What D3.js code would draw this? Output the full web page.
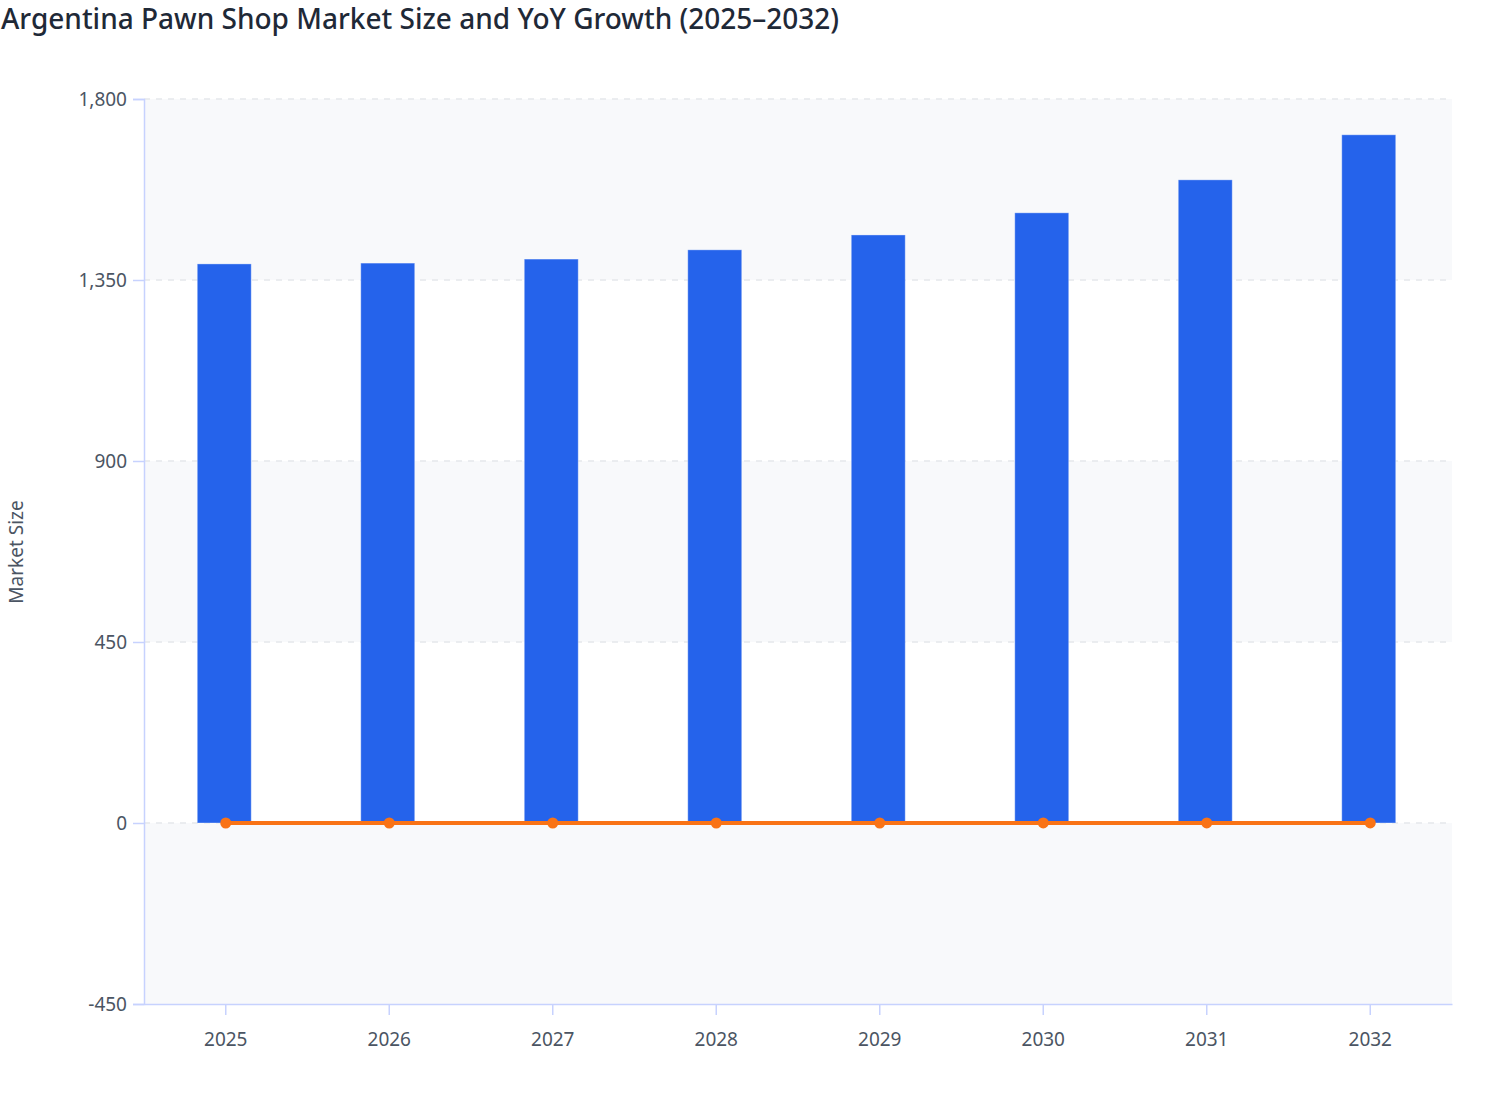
<!DOCTYPE html>
<html>
<head>
<meta charset="utf-8">
<script src="https://cdn.jsdelivr.net/npm/d3@7"></script>
<style>
  html, body { margin: 0; padding: 0; background: #ffffff; }
  svg { display: block; font-family: "Noto Sans", "Open Sans", sans-serif; }
</style>
</head>
<body>
<svg id="chart" width="1508" height="1120"></svg>
<script>
const years = ["2025", "2026", "2027", "2028", "2029", "2030", "2031", "2032"];
const marketSize = [1390, 1392, 1402, 1425, 1462, 1517, 1599, 1711];
const yoyGrowth = [0, 0.0014, 0.0072, 0.016, 0.026, 0.038, 0.054, 0.07];
const yTicks = [-450, 0, 450, 900, 1350, 1800];
const titleText = "Argentina Pawn Shop Market Size and YoY Growth (2025–2032)";
const yLabel = "Market Size";

const W = 1508, H = 1120;
const margin = { top: 99, right: 56, bottom: 116, left: 144 };
const iw = W - margin.left - margin.right;
const ih = H - margin.top - margin.bottom;

const svg = d3.select("#chart");

svg.append("text")
  .attr("x", 1).attr("y", 29)
  .attr("fill", "#1f2937")
  .attr("font-size", 28)
  .attr("font-weight", 500)
  .text(titleText);

const g = svg.append("g").attr("transform", `translate(${margin.left},${margin.top})`);

const x = d3.scaleBand().domain(years).range([0, iw]).padding(0);
const y = d3.scaleLinear().domain([-450, 1800]).range([ih, 0]);

// alternating background bands
const bands = d3.pairs(yTicks).filter((d, i) => i % 2 === 0);
g.selectAll("rect.band").data(bands).join("rect")
  .attr("class", "band")
  .attr("x", 0).attr("width", iw)
  .attr("y", d => y(d[1])).attr("height", d => y(d[0]) - y(d[1]))
  .attr("fill", "#f8f9fb");

// gridlines
g.selectAll("line.grid").data(yTicks.filter(t => t !== -450)).join("line")
  .attr("class", "grid")
  .attr("x1", 0).attr("x2", iw)
  .attr("y1", d => y(d)).attr("y2", d => y(d))
  .attr("stroke", "#e5e7eb").attr("stroke-width", 1.5)
  .attr("stroke-dasharray", "6,6");

// bars
const barW = x.bandwidth() * 0.33;
g.selectAll("rect.bar").data(years).join("rect")
  .attr("class", "bar")
  .attr("x", (d) => x(d) + x.bandwidth() / 2 - barW / 2 - 1.5)
  .attr("width", barW)
  .attr("y", (d, i) => y(marketSize[i]))
  .attr("height", (d, i) => y(0) - y(marketSize[i]))
  .attr("fill", "#2563eb")
  .attr("stroke", "rgba(255,255,255,0.35)")
  .attr("stroke-width", 1);

// line
const line = d3.line()
  .x((d, i) => x(years[i]) + x.bandwidth() / 2)
  .y(d => y(d));
g.append("path").datum(yoyGrowth)
  .attr("d", line)
  .attr("fill", "none")
  .attr("stroke", "#f97316")
  .attr("stroke-width", 4);
g.selectAll("circle.pt").data(yoyGrowth).join("circle")
  .attr("class", "pt")
  .attr("cx", (d, i) => x(years[i]) + x.bandwidth() / 2)
  .attr("cy", d => y(d))
  .attr("r", 5.5)
  .attr("fill", "#f97316");

const fmt = v => d3.format(",")(v).replace("−", "-");

// y axis
const yAxis = g.append("g")
  .call(d3.axisLeft(y).tickValues(yTicks).tickFormat(fmt).tickSize(11).tickPadding(6));
yAxis.attr("font-size", 19).attr("font-family", "Noto Sans, Open Sans, sans-serif");
yAxis.select(".domain").attr("stroke", "#c7d2fe").attr("stroke-width", 1.5);
yAxis.selectAll(".tick line").attr("stroke", "#c7d2fe").attr("stroke-width", 1.5);
yAxis.selectAll(".tick text").attr("fill", "#4b5563");

// x axis
const xAxis = g.append("g").attr("transform", `translate(0,${ih})`)
  .call(d3.axisBottom(x).tickSize(11).tickPadding(18).tickSizeOuter(0));
xAxis.attr("font-size", 19).attr("font-family", "Noto Sans, Open Sans, sans-serif");
xAxis.select(".domain").attr("stroke", "#c7d2fe").attr("stroke-width", 1.5);
xAxis.selectAll(".tick line").attr("stroke", "#c7d2fe").attr("stroke-width", 1.5);
xAxis.selectAll(".tick text").attr("fill", "#4b5563");

// y label
svg.append("text")
  .attr("transform", `translate(23,552) rotate(-90)`)
  .attr("text-anchor", "middle")
  .attr("fill", "#4b5563")
  .attr("font-size", 19)
  .text(yLabel);
</script>
</body>
</html>
